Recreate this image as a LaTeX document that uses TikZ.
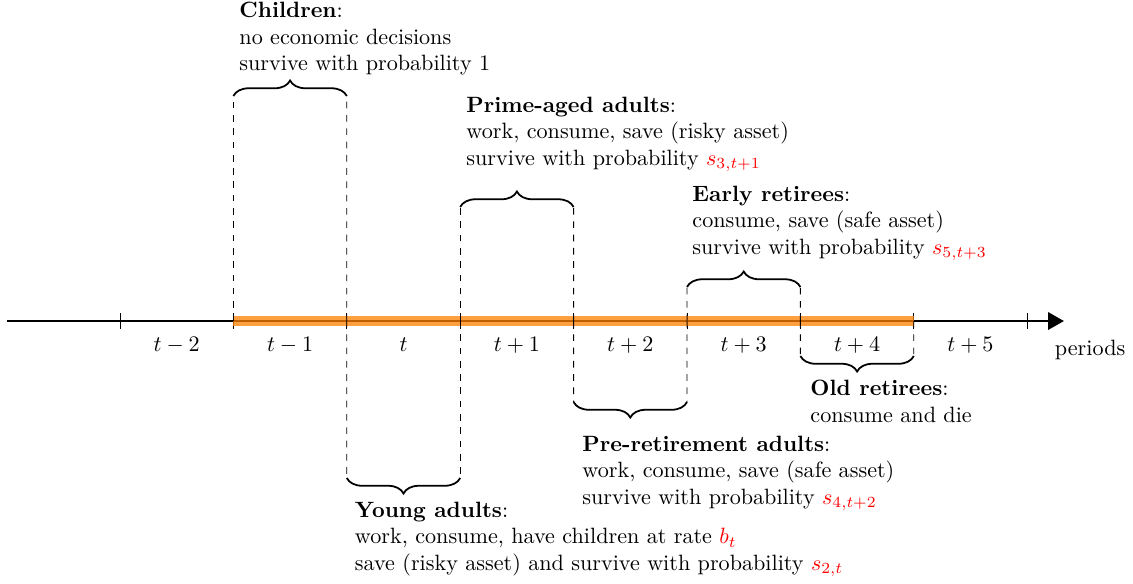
\documentclass[tikz,border=0pt]{standalone}
\usetikzlibrary{decorations.pathreplacing,arrows.meta}
\begin{document}
\begin{tikzpicture}[x=0.015873cm, y=-0.015873cm,
  bracestyle/.style={decorate, decoration={brace, amplitude=7pt}, thick},
  dashline/.style={dashed, line width=0.4pt},
  grouptext/.style={anchor=north west, inner sep=0pt, align=left},
  ticklabel/.style={anchor=base, inner sep=0pt},
  tickmark/.style={line width=0.4pt}]
\useasboundingbox (0,0) rectangle (1133,583);

% axis points
\foreach \i in {0,...,8}{
  \coordinate (p\i) at ({120+113.4*\i},321);
}
\coordinate (axs) at (7,321);
\coordinate (axe) at (1064,321);

% ticks
\foreach \i in {0,...,8}{
  \draw[tickmark] (p\i) ++(0,-8) -- ++(0,16);
}

% axis
\draw[very thick, -{Triangle[length=7.2pt,width=7.8pt]}] (axs) -- (axe);
% orange band
\draw[orange, line width=4.5pt, opacity=0.75] (p1) -- (p7);

% tick labels
\node[ticklabel] (l0) at (176.7,351) {$t-2$};
\node[ticklabel] (l1) at (290.1,351) {$t-1$};
\node[ticklabel] (l2) at (403.5,351) {$t$};
\node[ticklabel] (l3) at (516.9,351) {$t+1$};
\node[ticklabel] (l4) at (630.3,351) {$t+2$};
\node[ticklabel] (l5) at (743.7,351) {$t+3$};
\node[ticklabel] (l6) at (857.1,351) {$t+4$};
\node[ticklabel] (l7) at (970.5,351) {$t+5$};
\node[anchor=base west, inner sep=0pt] (per) at (1054.5,355.7) {periods};

% brace end coordinates
\coordinate (ch1) at (233.4,96);  \coordinate (ch2) at (346.8,96);
\coordinate (pa1) at (460.2,207); \coordinate (pa2) at (573.6,207);
\coordinate (er1) at (687,287);   \coordinate (er2) at (800.4,287);
\coordinate (pr1) at (573.6,402); \coordinate (pr2) at (687,402);
\coordinate (ya1) at (346.8,478); \coordinate (ya2) at (460.2,478);
\coordinate (or1) at (800.4,356); \coordinate (or2) at (913.8,356);

% dashed lines
\draw[dashline] (p1) -- (ch1);
\draw[dashline] (p2) -- (ch2);
\draw[dashline] (p3) -- (pa1);
\draw[dashline] (p4) -- (pa2);
\draw[dashline] (p5) -- (er1);
\draw[dashline] (p6) -- (er2);
\draw[dashline] (p4) -- (pr1);
\draw[dashline] (p5) -- (pr2);
\draw[dashline] (p2) -- (ya1);
\draw[dashline] (p3) -- (ya2);
\draw[dashline] (p6) -- (or1);
\draw[dashline] (p7) -- (or2);

% braces (above: left to right; below: right to left)
\draw[bracestyle] (ch1) -- (ch2);
\draw[bracestyle] (pa1) -- (pa2);
\draw[bracestyle] (er1) -- (er2);
\draw[bracestyle] (pr2) -- (pr1);
\draw[bracestyle] (ya2) -- (ya1);
\draw[bracestyle] (or2) -- (or1);

% texts
\node[grouptext] (tch) at (239,1.6) {\textbf{Children}:\\ no economic decisions\\ survive with probability 1};
\node[grouptext] (tpa) at (466,96.3) {\textbf{Prime-aged adults}:\\ work, consume, save (risky asset)\\ survive with probability \textcolor{red}{$s_{3,t+1}$}};
\node[grouptext] (ter) at (692,185.3) {\textbf{Early retirees}:\\ consume, save (safe asset)\\ survive with probability \textcolor{red}{$s_{5,t+3}$}};
\node[grouptext] (tpr) at (582,435.3) {\textbf{Pre-retirement adults}:\\ work, consume, save (safe asset)\\ survive with probability \textcolor{red}{$s_{4,t+2}$}};
\node[grouptext] (tya) at (354.5,501.3) {\textbf{Young adults}:\\ work, consume, have children at rate \textcolor{red}{$b_t$}\\ save (risky asset) and survive with probability \textcolor{red}{$s_{2,t}$}};
\node[grouptext] (tor) at (810,379.6) {\textbf{Old retirees}:\\ consume and die};
\end{tikzpicture}
\end{document}
